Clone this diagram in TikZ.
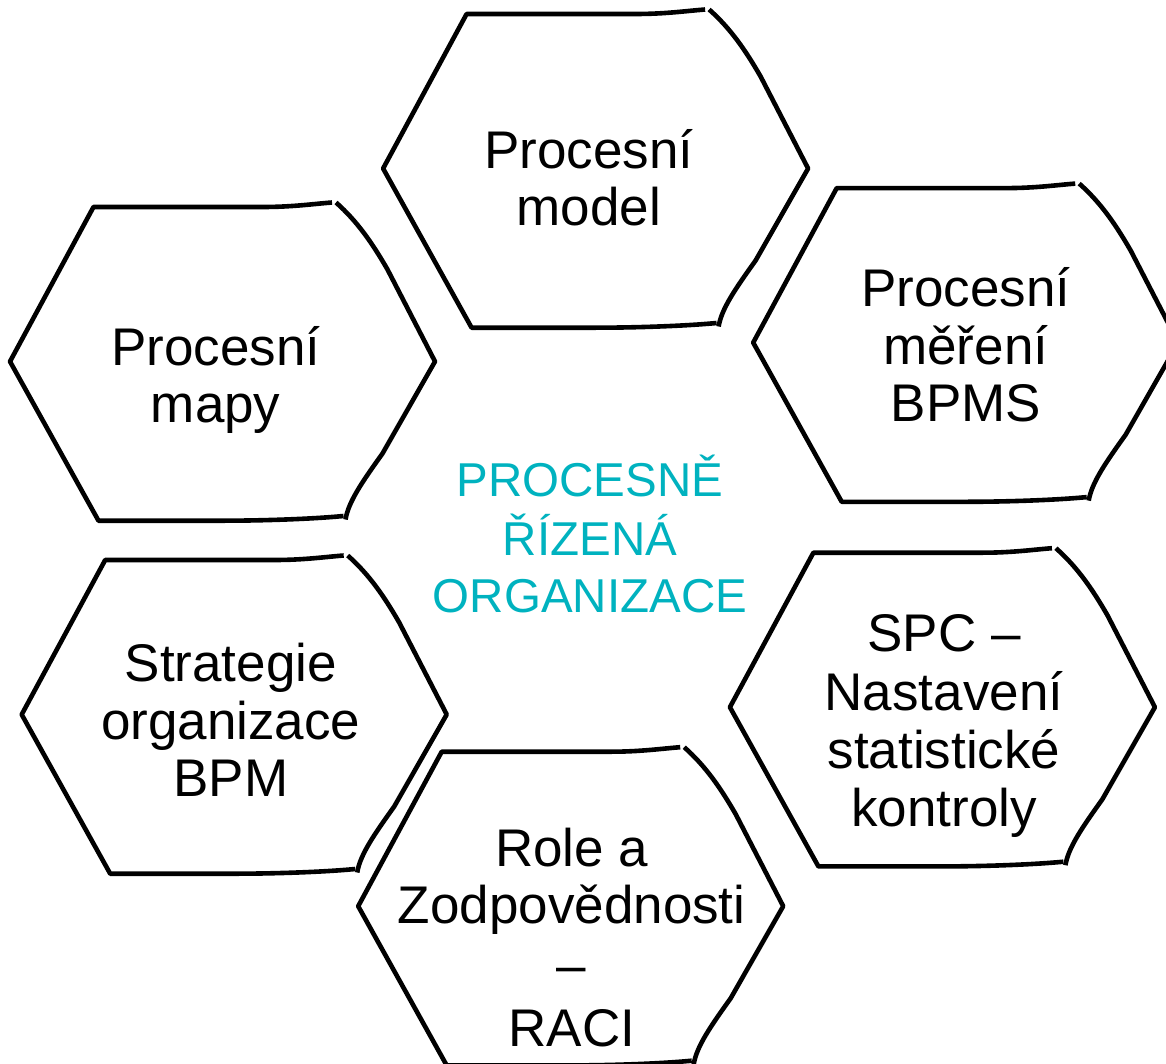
\documentclass[tikz,border=0pt]{standalone}
\usepackage{fontspec}
\setmainfont{Liberation Sans}
\definecolor{tealtext}{RGB}{0,178,191}
\tikzset{
  hexline/.style={line width=4.6pt, line join=round, draw=black},
  lbl/.style={inner sep=0pt, anchor=base, font=\fontsize{53}{57.5}\selectfont},
  ctr/.style={inner sep=0pt, anchor=base, text=tealtext, font=\fontsize{47.5}{57.5}\selectfont},
  pics/hexa/.style={code={
    \draw[hexline] (109.5,-159) .. controls (90,-157.5) and (70,-154.5) .. (40,-154.5)
      -- (-129,-154.5) -- (-212.5,0) -- (-124,159.2) -- (0,159.2)
      .. controls (40,159.2) and (90,157.5) .. (121,154.5);
    \draw[hexline] (113.5,-159) .. controls (135,-140) and (150,-118) .. (165,-92)
      -- (212.5,0) -- (160,92) .. controls (140,120) and (126,140) .. (123,158);
  }}
}
\begin{document}
\begin{tikzpicture}[x=1pt,y=-1pt]
  \useasboundingbox (0,0) rectangle (1166,1064);
  \clip (0,0) rectangle (1166,1064);
  \pic (h1) at (595.6,168.5) {hexa};
  \pic (h2) at (222.5,361.5) {hexa};
  \pic (h3) at (965.7,342.6) {hexa};
  \pic (h4) at (234.2,714.5) {hexa};
  \pic (h5) at (942.4,707.2) {hexa};
  \pic (h6) at (570.7,906.2) {hexa};
  \node[lbl] (t1) at (589,168.3) {\begin{tabular}[t]{@{}c@{}}Procesní\\model\end{tabular}};
  \node[lbl] (t2) at (215.7,365) {\begin{tabular}[t]{@{}c@{}}Procesní\\mapy\end{tabular}};
  \node[lbl] (t3) at (965.8,306.7) {\begin{tabular}[t]{@{}c@{}}Procesní\\měření\\BPMS\end{tabular}};
  \node[lbl] (t4) at (230.8,681.7) {\begin{tabular}[t]{@{}c@{}}Strategie\\organizace\\BPM\end{tabular}};
  \node[lbl] (t5) at (944,651.7) {\begin{tabular}[t]{@{}c@{}}SPC –\\[0.8pt]Nastavení\\[0.8pt]statistické\\[0.8pt]kontroly\end{tabular}};
  \node[lbl] (t6) at (571.7,866.7) {\begin{tabular}[t]{@{}c@{}}Role a\\[-0.9pt]Zodpovědnosti\\[2.2pt]–\\[6.2pt]RACI\end{tabular}};
  \node[ctr] (c) at (590,496.7) {\begin{tabular}[t]{@{}c@{}}PROCESNĚ\\ŘÍZENÁ\\ORGANIZACE\end{tabular}};
\end{tikzpicture}
\end{document}
